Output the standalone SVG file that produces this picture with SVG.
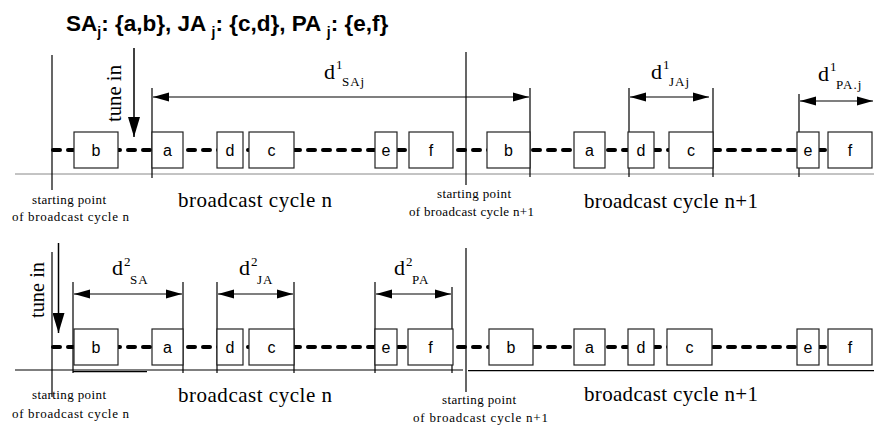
<svg xmlns="http://www.w3.org/2000/svg" width="874" height="430" viewBox="0 0 874 430">
<defs>
<marker id="ah" markerUnits="userSpaceOnUse" markerWidth="16" markerHeight="10" refX="16" refY="5" orient="auto-start-reverse">
<path d="M0,0.5 L16,5 L0,9.5 z" fill="#000"/>
</marker>
<marker id="ahBig" markerUnits="userSpaceOnUse" markerWidth="12" markerHeight="20" refX="6" refY="20" orient="0">
<path d="M0,0 L12,0 L6,20 z" fill="#000"/>
</marker>
<style>
.box{fill:#fff;stroke:#222;stroke-width:1.2}
.bl{font-family:"Liberation Sans",Arial,sans-serif;font-size:16px;text-anchor:middle;fill:#000}
.ser{font-family:"Liberation Serif","Times New Roman",serif;fill:#000}
.big{font-size:21px}
.small{font-size:13px}
.dd{font-size:22px}
.sup{font-size:13px}
.sub{font-size:13px;letter-spacing:1px}
.vl{stroke:#000;stroke-width:1.2;fill:none}
.dash{stroke:#000;stroke-width:4;stroke-dasharray:7 8;stroke-linecap:round;fill:none}
.dim{stroke:#000;stroke-width:1.2;fill:none;marker-start:url(#ah);marker-end:url(#ah)}
.tune{stroke:#000;stroke-width:1.5;fill:none;marker-end:url(#ahBig)}
</style>
</defs>
<rect width="874" height="430" fill="#fff"/>

<text x="66" y="31" font-family="'Liberation Sans',Arial,sans-serif" font-weight="bold" font-size="22.5">SA<tspan font-size="14" dy="6">j</tspan><tspan dy="-6">: {a,b}, JA </tspan><tspan font-size="14" dy="6">j</tspan><tspan dy="-6">: {c,d}, PA </tspan><tspan font-size="14" dy="6">j</tspan><tspan dy="-6">: {e,f}</tspan></text>

<g id="connectors">
<line class="dash" x1="53" y1="150" x2="874" y2="150"/>
<line class="dash" x1="53" y1="347" x2="874" y2="347"/>
<line x1="15" y1="174" x2="874" y2="174" stroke="#888" stroke-width="1"/>
<line x1="15" y1="370" x2="463" y2="370" stroke="#000" stroke-width="1.2"/>
<line x1="468" y1="370.7" x2="874" y2="370.7" stroke="#000" stroke-width="1.2"/>
<line x1="73" y1="371.6" x2="147" y2="371.6" stroke="#000" stroke-width="1.2"/>
<line class="vl" x1="52" y1="55" x2="52" y2="190"/>
<line class="vl" x1="152" y1="88" x2="152" y2="178"/>
<line class="vl" x1="530" y1="88" x2="530" y2="177"/>
<line class="vl" x1="466" y1="52" x2="466" y2="185"/>
<line class="vl" x1="629" y1="88" x2="629" y2="177"/>
<line class="vl" x1="713" y1="88" x2="713" y2="177" stroke="#555"/>
<line class="vl" x1="799" y1="94" x2="799" y2="177" stroke-width="1.6"/>
<line class="vl" x1="52" y1="252" x2="52" y2="397"/>
<line class="vl" x1="73" y1="282" x2="73" y2="373"/>
<line class="vl" x1="183" y1="282" x2="183" y2="373"/>
<line class="vl" x1="217" y1="282" x2="217" y2="373"/>
<line class="vl" x1="294" y1="282" x2="294" y2="373"/>
<line class="vl" x1="375" y1="282" x2="375" y2="373"/>
<line class="vl" x1="452" y1="287" x2="452" y2="373"/>
<line class="vl" x1="466" y1="248" x2="466" y2="392"/>
<line class="dim" x1="153" y1="97" x2="529" y2="97"/>
<line class="dim" x1="630" y1="97" x2="709" y2="97"/>
<line class="dim" x1="800" y1="101" x2="873" y2="101"/>
<line class="dim" x1="74" y1="294" x2="182" y2="294"/>
<line class="dim" x1="218" y1="294" x2="293" y2="294"/>
<line class="dim" x1="376" y1="294" x2="451" y2="294"/>
<line class="tune" x1="134" y1="48" x2="134" y2="137"/>
<line class="tune" x1="58.5" y1="243" x2="58.5" y2="333"/>
</g>

<g id="row1">
<g id="r1-b1"><rect class="box" x="74" y="132" width="44" height="36"/><text class="bl" x="96" y="156">b</text></g>
<g id="r1-a1"><rect class="box" x="152" y="132" width="31" height="36"/><text class="bl" x="167.5" y="156">a</text></g>
<g id="r1-d1"><rect class="box" x="217" y="132" width="26" height="36"/><text class="bl" x="230" y="156">d</text></g>
<g id="r1-c1"><rect class="box" x="249" y="132" width="45" height="36"/><text class="bl" x="271.5" y="156">c</text></g>
<g id="r1-e1"><rect class="box" x="375" y="132" width="22" height="36"/><text class="bl" x="386" y="156">e</text></g>
<g id="r1-f1"><rect class="box" x="409" y="132" width="44" height="36"/><text class="bl" x="431" y="156">f</text></g>
<g id="r1-b2"><rect class="box" x="487" y="132" width="43" height="36"/><text class="bl" x="508.5" y="156">b</text></g>
<g id="r1-a2"><rect class="box" x="574" y="132" width="31" height="36"/><text class="bl" x="589.5" y="156">a</text></g>
<g id="r1-d2"><rect class="box" x="628" y="132" width="26" height="36"/><text class="bl" x="641" y="156">d</text></g>
<g id="r1-c2"><rect class="box" x="669" y="132" width="44" height="36"/><text class="bl" x="691" y="156">c</text></g>
<g id="r1-e2"><rect class="box" x="797" y="132" width="22" height="36"/><text class="bl" x="808" y="156">e</text></g>
<g id="r1-f2"><rect class="box" x="828" y="132" width="44" height="36"/><text class="bl" x="850" y="156">f</text></g>
</g>

<g id="row2">
<g id="r2-b1"><rect class="box" x="74" y="329" width="44" height="36"/><text class="bl" x="96" y="353">b</text></g>
<g id="r2-a1"><rect class="box" x="152" y="329" width="31" height="36"/><text class="bl" x="167.5" y="353">a</text></g>
<g id="r2-d1"><rect class="box" x="217" y="329" width="26" height="36"/><text class="bl" x="230" y="353">d</text></g>
<g id="r2-c1"><rect class="box" x="249" y="329" width="45" height="36"/><text class="bl" x="271.5" y="353">c</text></g>
<g id="r2-e1"><rect class="box" x="375" y="329" width="22" height="36"/><text class="bl" x="386" y="353">e</text></g>
<g id="r2-f1"><rect class="box" x="408" y="329" width="45" height="36"/><text class="bl" x="430.5" y="353">f</text></g>
<g id="r2-b2"><rect class="box" x="489" y="329" width="44" height="36"/><text class="bl" x="511" y="353">b</text></g>
<g id="r2-a2"><rect class="box" x="574" y="329" width="31" height="36"/><text class="bl" x="589.5" y="353">a</text></g>
<g id="r2-d2"><rect class="box" x="628" y="329" width="26" height="36"/><text class="bl" x="641" y="353">d</text></g>
<g id="r2-c2"><rect class="box" x="667" y="329" width="45" height="36"/><text class="bl" x="689.5" y="353">c</text></g>
<g id="r2-e2"><rect class="box" x="797" y="329" width="22" height="36"/><text class="bl" x="808" y="353">e</text></g>
<g id="r2-f2"><rect class="box" x="828" y="329" width="44" height="36"/><text class="bl" x="850" y="353">f</text></g>
</g>

<g id="labels">
<text class="ser" font-size="21" textLength="57" lengthAdjust="spacingAndGlyphs" transform="translate(121,122) rotate(-90)">tune in</text>
<text class="ser" font-size="21" textLength="56" lengthAdjust="spacingAndGlyphs" transform="translate(43.5,318) rotate(-90)">tune in</text>

<text class="ser dd" x="324" y="79">d</text><text class="ser sup" x="336" y="69">1</text><text class="ser sub" x="342" y="86">SAj</text>
<text class="ser dd" x="651" y="79">d</text><text class="ser sup" x="663" y="69">1</text><text class="ser sub" x="669" y="86">JAj</text>
<text class="ser dd" x="818" y="81">d</text><text class="ser sup" x="830" y="71">1</text><text class="ser sub" x="836" y="89">PA.j</text>

<text class="ser dd" x="112" y="275">d</text><text class="ser sup" x="124" y="266">2</text><text class="ser sub" x="130" y="284">SA</text>
<text class="ser dd" x="239" y="275">d</text><text class="ser sup" x="251" y="266">2</text><text class="ser sub" x="257" y="284">JA</text>
<text class="ser dd" x="394" y="275">d</text><text class="ser sup" x="406" y="266">2</text><text class="ser sub" x="412" y="284">PA</text>

<text class="ser small" x="32" y="204" textLength="74">starting point</text>
<text class="ser small" x="12" y="221" textLength="117">of broadcast cycle n</text>
<text class="ser small" x="437" y="198" textLength="74">starting point</text>
<text class="ser small" x="409" y="216" textLength="125">of broadcast cycle n+1</text>
<text class="ser small" x="32" y="399" textLength="74">starting point</text>
<text class="ser small" x="12" y="418" textLength="117">of broadcast cycle n</text>
<text class="ser small" x="442" y="404" textLength="74">starting point</text>
<text class="ser small" x="413" y="422" textLength="135">of broadcast cycle n+1</text>

<text class="ser big" x="178" y="207" textLength="154">broadcast cycle n</text>
<text class="ser big" x="584" y="208" textLength="174">broadcast cycle n+1</text>
<text class="ser big" x="178" y="402" textLength="154">broadcast cycle n</text>
<text class="ser big" x="584" y="401" textLength="174">broadcast cycle n+1</text>
</g>
</svg>
